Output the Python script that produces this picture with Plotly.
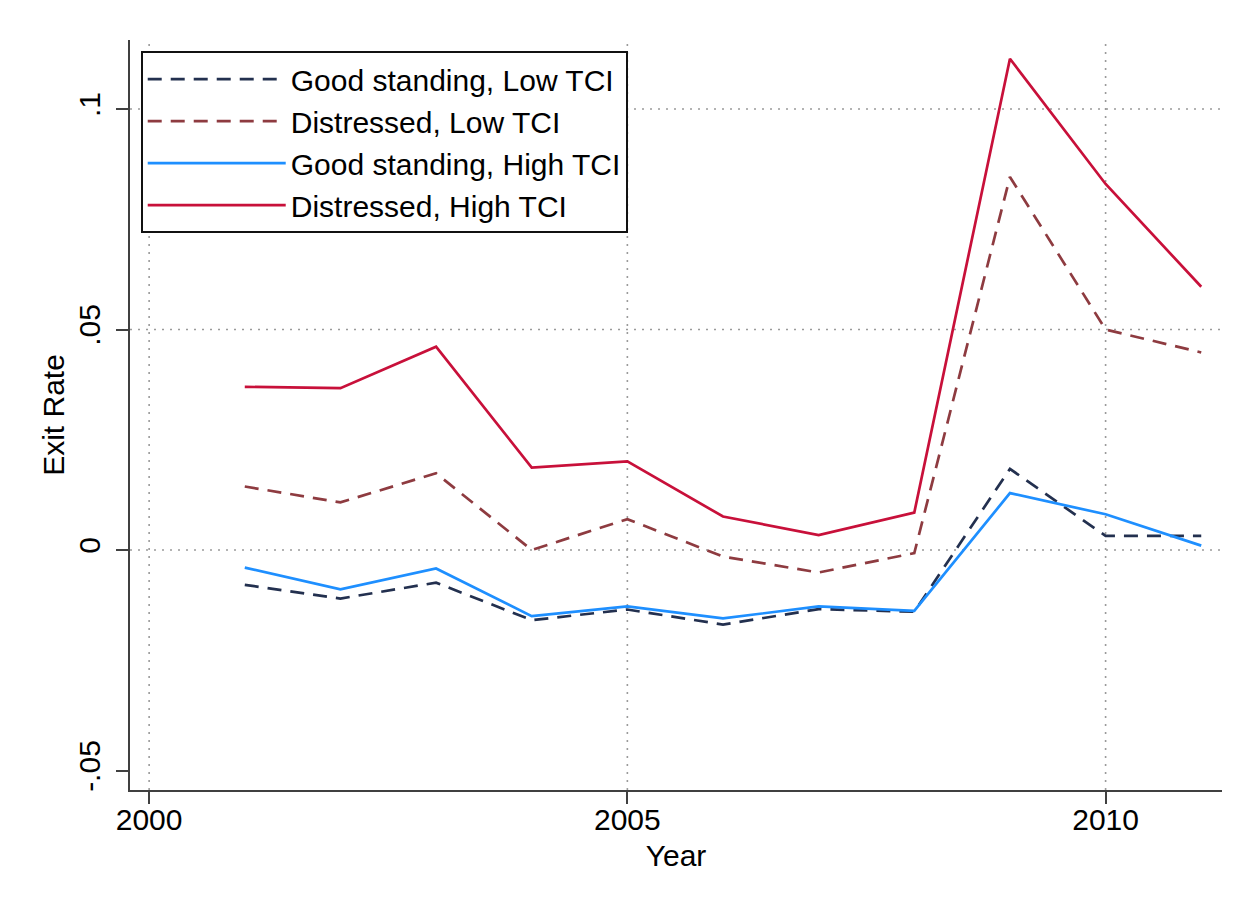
import plotly.graph_objects as go

years = [2001, 2002, 2003, 2004, 2005, 2006, 2007, 2008, 2009, 2010, 2011]
good_low = [-0.0079, -0.0110, -0.0074, -0.0159, -0.0135, -0.0169, -0.0134, -0.0140, 0.0184, 0.0032, 0.0032]
dist_low = [0.0144, 0.0108, 0.0174, 0.0000, 0.0070, -0.0015, -0.0051, -0.0007, 0.0846, 0.0500, 0.0448]
good_high = [-0.0040, -0.0089, -0.0042, -0.0150, -0.0128, -0.0155, -0.0128, -0.0138, 0.0129, 0.0081, 0.0010]
dist_high = [0.0370, 0.0367, 0.0461, 0.0187, 0.0201, 0.0076, 0.0034, 0.0085, 0.1114, 0.0830, 0.0597]

names = ["Good standing, Low TCI", "Distressed, Low TCI", "Good standing, High TCI", "Distressed, High TCI"]
series = [good_low, dist_low, good_high, dist_high]
colors = ["#23304f", "#8e3b40", "#1e8fff", "#c8103a"]
dashes = ["14px,9px", "14px,9px", "solid", "solid"]

x_ticks = [2000, 2005, 2010]
y_ticks = [-0.05, 0, 0.05, 0.1]
y_ticktext = ["-.05", "0", ".05", ".1"]
y_grid = [0, 0.05, 0.1]
x_grid = [2000, 2005, 2010]

FONT = "Liberation Sans, Arial, sans-serif"
FS = 30

fig = go.Figure()
for name, vals, c, d in zip(names, series, colors, dashes):
    fig.add_trace(go.Scatter(x=years, y=vals, mode="lines", name=name,
                             line=dict(color=c, width=2.7, dash=d)))

for v in y_grid:
    fig.add_hline(y=v, line=dict(color="#9a9a9a", width=1.6, dash="2px,6px"), layer="below")
for v in x_grid:
    fig.add_vline(x=v, line=dict(color="#9a9a9a", width=1.6, dash="2px,6px"), layer="below")

fig.update_layout(
    width=1249, height=909,
    margin=dict(l=130, r=27, t=40, b=119),
    paper_bgcolor="white", plot_bgcolor="white",
    font=dict(family=FONT, size=FS, color="black"),
    showlegend=True,
    legend=dict(x=0.010, y=0.985, xanchor="left", yanchor="top",
                bgcolor="white", bordercolor="#111111", borderwidth=1.8,
                font=dict(family=FONT, size=FS, color="black"),
                itemwidth=138, tracegroupgap=0),
    xaxis=dict(range=[1999.80, 2011.217], tickvals=x_ticks, ticktext=[str(t) for t in x_ticks],
               showgrid=False, zeroline=False, showline=True, linecolor="#404040", linewidth=2,
               ticks="outside", ticklen=12, tickwidth=2, tickcolor="#404040",
               tickfont=dict(size=FS), ticklabelstandoff=-10,
               title=dict(text="Year", font=dict(size=FS), standoff=10)),
    yaxis=dict(range=[-0.05442, 0.11565], tickvals=y_ticks, ticktext=y_ticktext,
               showgrid=False, zeroline=False, showline=True, linecolor="#404040", linewidth=2,
               ticks="outside", ticklen=12, tickwidth=2, tickcolor="#404040",
               tickangle=-90, tickfont=dict(size=FS), ticklabelstandoff=4,
               title=dict(text="Exit Rate", font=dict(size=FS), standoff=0)),
)

fig.write_html("out.html")
